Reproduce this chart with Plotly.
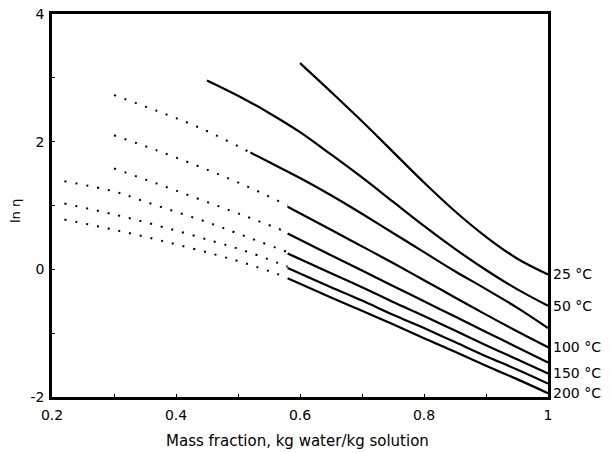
import plotly.graph_objects as go

# ---- data ----
temps = ["25 °C", "50 °C", "75 °C", "100 °C", "125 °C", "150 °C", "175 °C", "200 °C"]
labelled = ["25 °C", "50 °C", "100 °C", "150 °C", "200 °C"]

solid_x = {
    "25 °C": [0.60, 0.65, 0.70, 0.75, 0.80, 0.85, 0.90, 0.95, 1.00],
    "50 °C": [0.45, 0.50, 0.55, 0.60, 0.65, 0.70, 0.75, 0.80, 0.85, 0.90, 0.95, 1.00],
    "75 °C": [0.52, 0.55, 0.60, 0.65, 0.70, 0.75, 0.80, 0.85, 0.90, 0.95, 1.00],
    "100 °C": [0.58, 0.65, 0.70, 0.75, 0.80, 0.85, 0.90, 0.95, 1.00],
    "125 °C": [0.58, 0.65, 0.70, 0.75, 0.80, 0.85, 0.90, 0.95, 1.00],
    "150 °C": [0.58, 0.65, 0.70, 0.75, 0.80, 0.85, 0.90, 0.95, 1.00],
    "175 °C": [0.58, 0.65, 0.70, 0.75, 0.80, 0.85, 0.90, 0.95, 1.00],
    "200 °C": [0.58, 0.65, 0.70, 0.75, 0.80, 0.85, 0.90, 0.95, 1.00],
}
solid_y = {
    "25 °C": [3.23, 2.78, 2.32, 1.84, 1.36, 0.91, 0.51, 0.17, -0.08],
    "50 °C": [2.96, 2.72, 2.45, 2.15, 1.80, 1.44, 1.06, 0.68, 0.32, -0.01, -0.31, -0.57],
    "75 °C": [1.83, 1.68, 1.43, 1.16, 0.87, 0.57, 0.27, -0.03, -0.31, -0.60, -0.92],
    "100 °C": [0.98, 0.62, 0.36, 0.10, -0.17, -0.44, -0.71, -0.97, -1.22],
    "125 °C": [0.56, 0.22, -0.02, -0.26, -0.50, -0.74, -0.98, -1.22, -1.46],
    "150 °C": [0.25, -0.06, -0.28, -0.51, -0.73, -0.96, -1.19, -1.41, -1.63],
    "175 °C": [0.02, -0.28, -0.49, -0.71, -0.92, -1.14, -1.36, -1.57, -1.79],
    "200 °C": [-0.14, -0.44, -0.65, -0.86, -1.08, -1.29, -1.51, -1.72, -1.94],
}
dotted_x = {
    "75 °C": [0.30, 0.37, 0.44, 0.52],
    "100 °C": [0.30, 0.37, 0.44, 0.51, 0.58],
    "125 °C": [0.30, 0.37, 0.44, 0.51, 0.58],
    "150 °C": [0.22, 0.30, 0.35, 0.40, 0.45, 0.50, 0.58],
    "175 °C": [0.22, 0.30, 0.38, 0.46, 0.52, 0.58],
    "200 °C": [0.22, 0.30, 0.38, 0.46, 0.52, 0.58],
}
dotted_y = {
    "75 °C": [2.73, 2.48, 2.21, 1.83],
    "100 °C": [2.10, 1.86, 1.60, 1.32, 1.00],
    "125 °C": [1.58, 1.34, 1.09, 0.84, 0.58],
    "150 °C": [1.38, 1.22, 1.06, 0.90, 0.74, 0.56, 0.27],
    "175 °C": [1.03, 0.86, 0.66, 0.44, 0.26, 0.04],
    "200 °C": [0.78, 0.62, 0.44, 0.24, 0.07, -0.13],
}
x_ticks = [0.2, 0.4, 0.6, 0.8, 1.0]
x_tick_text = ["0.2", "0.4", "0.6", "0.8", "1"]
y_ticks = [-2, 0, 2, 4]
y_tick_text = ["-2", "0", "2", "4"]
x_title = "Mass fraction, kg water/kg solution"
y_title = "ln η"

FONT = "DejaVu Sans, Liberation Sans, Arial, sans-serif"

fig = go.Figure()
for t in temps:
    if t in dotted_x:
        fig.add_trace(go.Scatter(x=dotted_x[t], y=dotted_y[t], mode="lines",
                                 line=dict(color="black", width=2, dash="2px,9px", shape="spline"),
                                 hoverinfo="skip", showlegend=False))
    fig.add_trace(go.Scatter(x=solid_x[t], y=solid_y[t], mode="lines",
                             line=dict(color="black", width=2.2, shape="spline"),
                             name=t, showlegend=False))

for t in labelled:
    fig.add_annotation(x=1.0, y=solid_y[t][-1], xref="x", yref="y", text=t,
                       showarrow=False, xanchor="left", yanchor="middle", xshift=3,
                       font=dict(family=FONT, size=14, color="black"))

fig.add_annotation(x=-0.075, y=0.485, xref="paper", yref="paper", text=y_title,
                   showarrow=False, textangle=-90, xanchor="center", yanchor="middle",
                   font=dict(family=FONT, size=13, color="black"))
fig.add_annotation(x=0.495, y=-0.115, xref="paper", yref="paper", text=x_title,
                   showarrow=False, xanchor="center", yanchor="middle",
                   font=dict(family=FONT, size=15, color="black"))

fig.update_layout(
    width=612, height=453,
    margin=dict(l=52, r=64, t=14, b=56, autoexpand=False),
    paper_bgcolor="white", plot_bgcolor="white",
    font=dict(family=FONT, size=14, color="black"),
    xaxis=dict(range=[0.2, 1.0], tickvals=x_ticks, ticktext=x_tick_text,
               showgrid=False, zeroline=False, showline=True, linecolor="black",
               linewidth=2.5, mirror=True, ticks="inside", ticklen=3, tickcolor="black",
               minor=dict(ticks="inside", ticklen=3, tickcolor="black", dtick=0.1, showgrid=False),
               tickfont=dict(family=FONT, size=14), ticklabelstandoff=3, automargin=False),
    yaxis=dict(range=[-2, 4], tickvals=y_ticks, ticktext=y_tick_text,
               showgrid=False, zeroline=False, showline=True, linecolor="black",
               linewidth=2.5, mirror=True, ticks="inside", ticklen=3, tickcolor="black",
               minor=dict(ticks="inside", ticklen=3, tickcolor="black", dtick=1, showgrid=False),
               tickfont=dict(family=FONT, size=14), ticklabelstandoff=2, automargin=False),
)

fig.write_html("out.html")
